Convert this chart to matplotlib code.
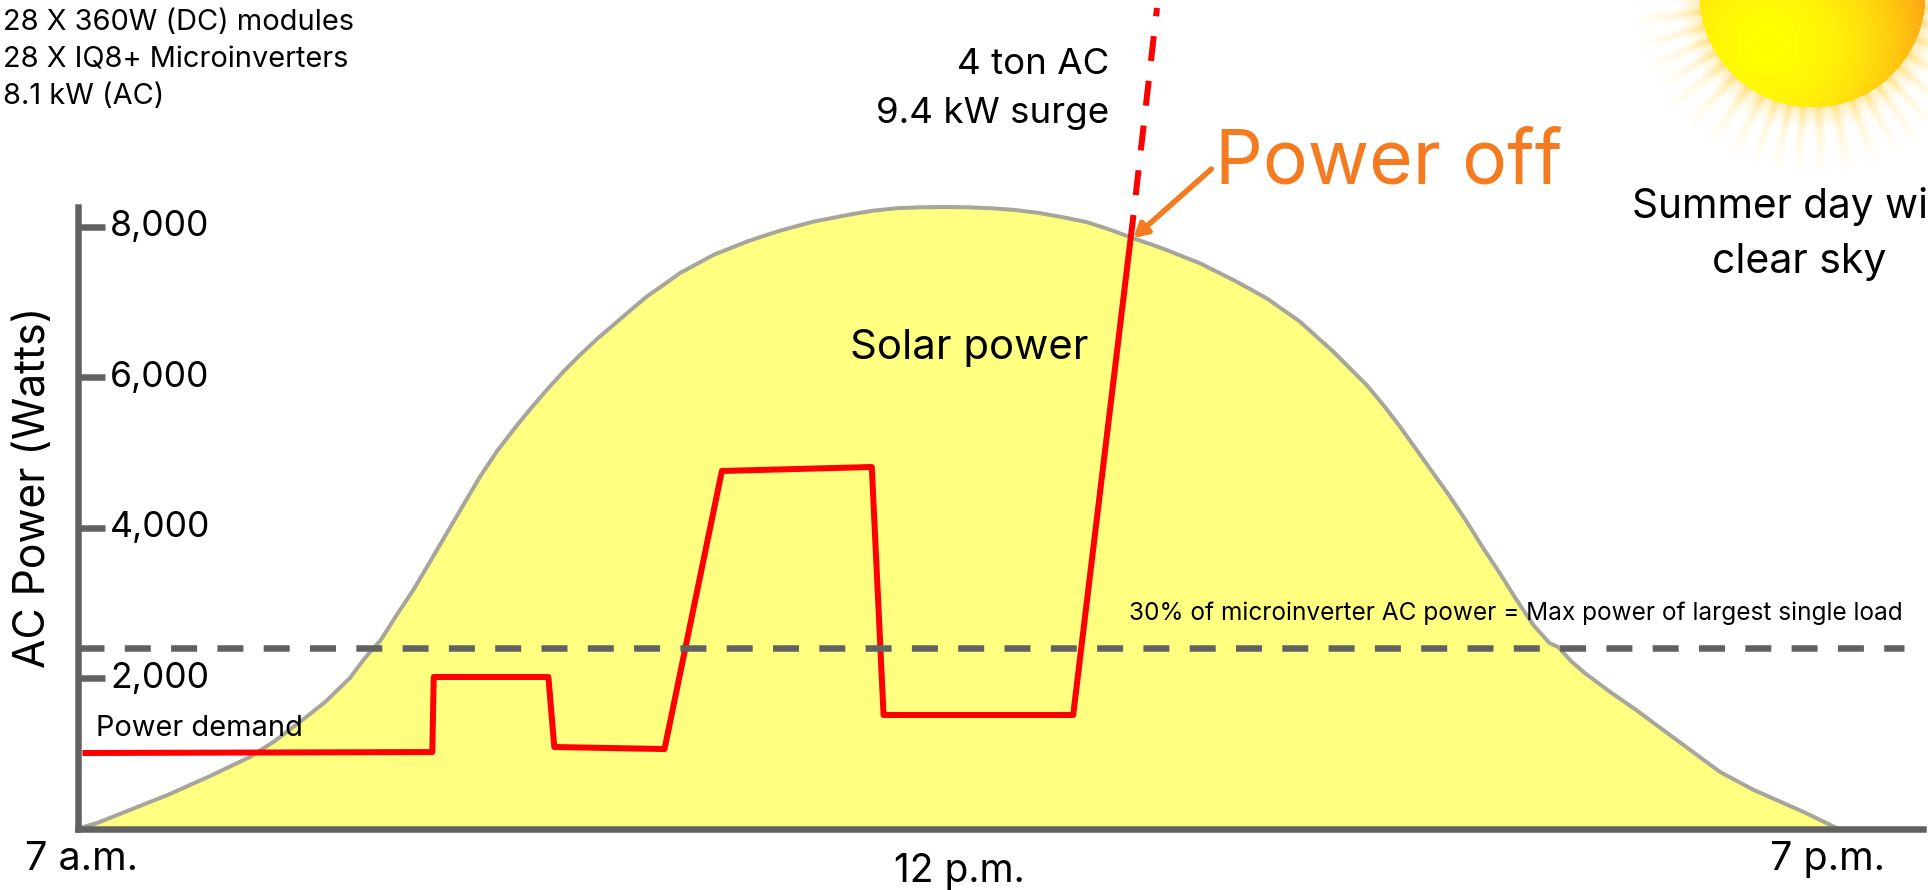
import numpy as np
import matplotlib
matplotlib.use('Agg')
import matplotlib.pyplot as plt

plt.rcParams['font.family'] = ['Inter', 'DejaVu Sans']

W, H = 1928, 890

# hours after 7 a.m., watts
solar_h = [0, .13, .37, .61, .89, 1.17, 1.34, 1.50, 1.68, 1.85, 1.95, 2.06, 2.168, 2.281, 2.395,
           2.508, 2.621, 2.735, 2.848, 2.961, 3.075, 3.188, 3.302, 3.415, 3.528, 3.642, 3.755,
           3.868, 3.982, 4.095, 4.209, 4.322, 4.435, 4.549, 4.662, 4.776, 5.0, 5.25, 5.4, 5.57,
           5.73, 5.89, 6.05, 6.21, 6.38, 6.54, 6.7, 6.86, 7.02, 7.179, 7.293, 7.406, 7.519,
           7.633, 7.746, 7.86, 7.973, 8.086, 8.2, 8.313, 8.426, 8.54, 8.653, 8.766, 8.88, 8.993,
           9.107, 9.22, 9.333, 9.447, 9.56, 9.673, 9.787, 9.9, 10.01, 10.07, 10.16, 10.25,
           10.42, 10.60, 10.94, 11.17, 11.40, 11.74, 11.97]
solar_w = [0, 73, 260, 446, 690, 951, 1165, 1403, 1680, 2002, 2264, 2507, 2840, 3172, 3549,
           3926, 4303, 4680, 5012, 5300, 5575, 5832, 6076, 6298, 6506, 6697, 6887,
           7073, 7229, 7387, 7508, 7628, 7716, 7805, 7880, 7951, 8070, 8165, 8215, 8250,
           8262, 8266, 8262, 8250, 8225, 8186, 8130, 8066, 7965, 7849, 7774, 7694, 7605,
           7517, 7406, 7295, 7175, 7051, 6896, 6741, 6541, 6342, 6120, 5899, 5633, 5345,
           5034, 4724, 4414, 4081, 3726, 3393, 3039, 2707, 2466, 2414, 2220, 2068,
           1820, 1576, 1084, 752, 512, 219, 0]

demand_h = [.03, 2.41, 2.42, 3.20, 3.24, 3.99, 4.38, 5.40, 5.48, 6.77, 7.18]
demand_w = [1004, 1017, 2015, 2015, 1084, 1057, 4755, 4808, 1510, 1510, 8160]
surge_h = [7.18, 7.34]
surge_w = [8160, 10913]

limit_w = 2400
limit_h = [0, 12.42]
y_ticks = [2000, 4000, 6000, 8000]
y_tick_labels = ['2,000', '4,000', '6,000', '8,000']

ORANGE = '#F47B20'
GREY = '#616161'


def px(v):
    return v * 0.72


def put(x, y, s, size, **kw):
    # positions given in image pixels
    kw.setdefault('ha', 'left')
    kw.setdefault('va', 'center')
    kw.setdefault('color', 'black')
    return fig.text(x / W, 1 - y / H, s, fontsize=px(size), **kw)


fig = plt.figure(figsize=(W / 100, H / 100), dpi=100)
ax = fig.add_axes([0, 0, 1, 1])

ax.fill_between(solar_h, solar_w, 0, color='#FFFF80', lw=0, zorder=1)
ax.plot(solar_h, solar_w, color='#A6A69A', lw=px(4), zorder=2)

ax.plot(limit_h, [limit_w, limit_w], color=GREY, lw=px(6.5),
        linestyle=(0, (26 / 6.5, 20.3 / 6.5)), dash_capstyle='butt', zorder=4)
ax.plot(demand_h, demand_w, color='#FF0000', lw=px(6), solid_joinstyle='round',
        solid_capstyle='butt', zorder=3)
ax.plot(surge_h, surge_w, color='#FF0000', lw=px(6), linestyle=(4.17, (4.17, 3.33)),
        dash_capstyle='butt', zorder=3)

ax.set_xlim(-78 / 147, (W - 78) / 147)
ax.set_ylim(-61.5 * 13.3, 828.5 * 13.3)

for s in ['top', 'right']:
    ax.spines[s].set_visible(False)
ax.patch.set_visible(False)
ax.spines['left'].set_position(('data', 0))
ax.spines['bottom'].set_position(('data', 0))
ax.spines['left'].set_bounds(0, 8270)
ax.spines['bottom'].set_bounds(0, 12.55)
for s in ['left', 'bottom']:
    ax.spines[s].set_color(GREY)
    ax.spines[s].set_linewidth(px(6.5))
    ax.spines[s].set_zorder(5)
ax.set_xticks([])
ax.set_yticks(y_ticks)
ax.set_yticklabels([])
ax.tick_params(axis='y', direction='in', length=px(27), width=px(6.5), color=GREY)

# sun, painted as an image in the top right corner
x0, x1, y0, y1 = 1500, 1928, 0, 200
xx, yy = np.meshgrid(np.arange(x0, x1), np.arange(y0, y1))
cx, cy, R = 1812, -6, 113
r = np.hypot(xx - cx, yy - cy)
th = np.arctan2(yy - cy, xx - cx)
rays = np.clip(0.5 + 0.5 * np.cos(th * 46 + 0.8 * np.sin(th * 7)), 0, 1) ** 2
fade = np.clip(1 - (r - R) / 68, 0, 1)
glow = np.clip(1 - (r - R) / 26, 0, 1)
alpha = np.clip(0.42 * rays * fade + 0.5 * glow ** 1.5, 0, 1)
img = np.zeros(xx.shape + (4,))
img[..., 0] = 1
img[..., 1] = 0.87
img[..., 2] = 0.45
img[..., 3] = alpha
d = np.hypot(xx - 1767, yy - 43) / 165
disc = r <= R
img[..., 1][disc] = np.clip(1.0 - 0.36 * d[disc] ** 2, 0, 1)
img[..., 2][disc] = 0.08 * d[disc]
img[..., 3][disc] = 1
sun_ax = fig.add_axes([x0 / W, 1 - y1 / H, (x1 - x0) / W, (y1 - y0) / H])
sun_ax.imshow(img, aspect='auto', interpolation='bilinear')
sun_ax.axis('off')
sun_ax.set_zorder(-1)

ax.annotate('', xy=(7.18, 7854), xytext=(7.71, 8771),
            arrowprops=dict(arrowstyle='-|>,head_width=0.45,head_length=0.8', color=ORANGE,
                            lw=px(5.5), shrinkA=0, shrinkB=0), zorder=6)

# y tick labels
for v, lab in zip(y_ticks, y_tick_labels):
    ax.text((110 - 78) / 147, v, lab, fontsize=px(35.6), ha='left', va='center', color='black', zorder=7)

put(3, 22, '28 X 360W (DC) modules', 29)
put(3, 60, '28 X IQ8+ Microinverters', 29)
put(3, 97, '8.1 kW (AC)', 29)
put(34, 487, 'AC Power (Watts)', 42.8, rotation=90, ha='center')
put(25, 860, '7 a.m.', 39.5)
put(959, 872, '12 p.m.', 39, ha='center')
put(1770, 860, '7 p.m.', 39.5)
put(96, 728, 'Power demand', 29)
put(850, 348, 'Solar power', 41.8)
put(1109, 65, '4 ton AC', 36.7, ha='right')
put(1109, 114, '9.4 kW surge', 36.7, ha='right')
put(1215, 165, 'Power off', 75, color=ORANGE)
put(1799, 206, 'Summer day with', 40.6, ha='center')
put(1799, 262, 'clear sky', 41, ha='center')
put(1129, 613, '30% of microinverter AC power = Max power of largest single load', 24.4)

fig.savefig('out.png', dpi=100, facecolor='white')
